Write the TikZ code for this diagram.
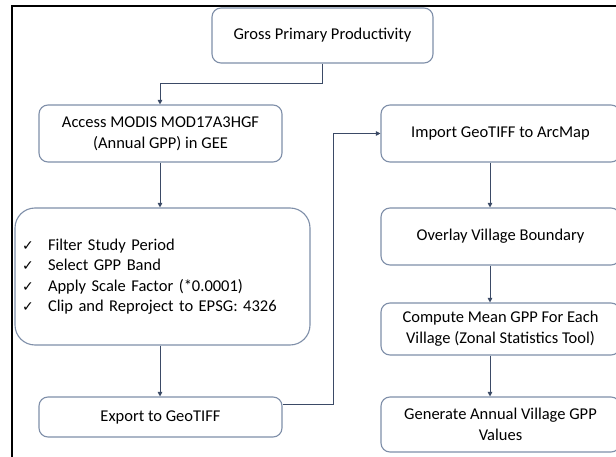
\documentclass[tikz,border=0pt]{standalone}
\usepackage{fontspec}
\setmainfont{Carlito}
\newfontfamily\symfont{DejaVu Sans}
\usetikzlibrary{arrows.meta,calc}
\definecolor{boxline}{HTML}{7F8FA9}
\definecolor{conn}{HTML}{3B4A66}
\tikzset{
  flowbox/.style={draw=boxline, line width=1.1pt, rounded corners=9pt, align=center, inner sep=2pt, font=\fontsize{16.5}{21}\selectfont},
  conline/.style={draw=conn, line width=0.9pt, -{Triangle[width=4.5pt,length=4.5pt]}}
}
\newcommand{\ck}{\makebox[26pt][l]{\symfont\fontsize{14}{14}\selectfont ✓}}
\begin{document}
\begin{tikzpicture}[x=1pt,y=-1pt]
\useasboundingbox (0,0) rectangle (616,457);
\clip (0,0) rectangle (616,457);
\fill[white] (0,0) rectangle (616,457);
% frame
\draw[black, line width=2.2pt] (12,460) -- (12,6) -- (620,6);
% left column
\node[flowbox, minimum width=221pt, minimum height=55pt] (gpp) at (322.5,35.5) {Gross Primary Productivity};
\node[flowbox, minimum width=243pt, minimum height=57pt] (acc) at (160.5,133.5) {Access MODIS MOD17A3HGF\\(Annual GPP) in GEE};
\node[flowbox, minimum width=295pt, minimum height=137pt, rounded corners=20pt, align=left, text width=281pt, font=\fontsize{16.5}{20.5}\selectfont] (flt) at (162.5,276.5) {\ck Filter Study Period\\\ck Select GPP Band\\\ck Apply Scale Factor (*0.0001)\\\ck Clip and Reproject to EPSG: 4326};
\node[flowbox, minimum width=243pt, minimum height=40pt] (exp) at (160.5,417) {Export to GeoTIFF};
% right column
\node[flowbox, minimum width=239pt, minimum height=57pt] (imp) at (500.5,133.5) {Import GeoTIFF to ArcMap};
\node[flowbox, minimum width=239pt, minimum height=57pt] (ovl) at (500.5,236.5) {Overlay Village Boundary};
\node[flowbox, minimum width=239pt, minimum height=52pt] (cmp) at (500.5,329) {Compute Mean GPP For Each\\Village (Zonal Statistics Tool)};
\node[flowbox, minimum width=239pt, minimum height=55pt] (gen) at (500.5,424.5) {Generate Annual Village GPP\\Values};
% connectors
\coordinate (lx) at (160,0);
\coordinate (rx) at (490,0);
\coordinate (bendy) at (0,83);
\coordinate (midx) at (333,0);
\coordinate (expy) at (0,404);
\draw[conline] (gpp.south) |- (bendy -| lx) -- (acc.north -| lx);
\draw[conline] (acc.south -| lx) -- (flt.north -| lx);
\draw[conline] (flt.south -| lx) -- (exp.north -| lx);
\draw[conline] (exp.east |- expy) -- (expy -| midx) -- (imp.west -| midx) -- (imp.west);
\draw[conline] (imp.south -| rx) -- (ovl.north -| rx);
\draw[conline] (ovl.south -| rx) -- (cmp.north -| rx);
\draw[conline] (cmp.south -| rx) -- (gen.north -| rx);
\end{tikzpicture}
\end{document}
